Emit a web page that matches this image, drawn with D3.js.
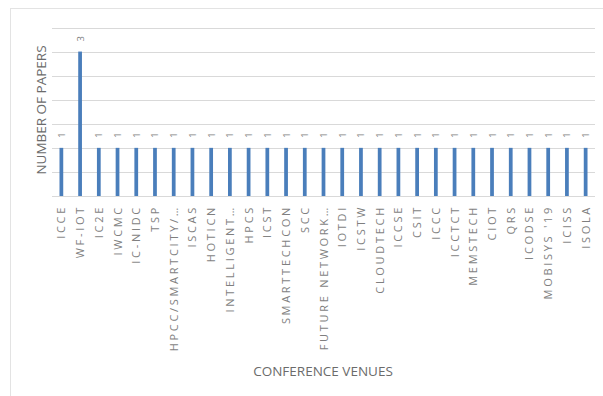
<!DOCTYPE html>
<html>
<head>
<meta charset="utf-8">
<script src="https://cdn.jsdelivr.net/npm/d3@7"></script>
<style>
  html, body { margin: 0; padding: 0; background: #fff; }
  svg { display: block; }
</style>
</head>
<body>
<svg id="chart" width="603" height="396"></svg>
<script>
// Conference venues and the number of papers published at each
const venues = [
  "ICCE", "WF-IOT", "IC2E", "IWCMC", "IC-NIDC", "TSP", "HPCC/SMARTCITY/\u2026",
  "ISCAS", "HOTICN", "INTELLIGENT\u2026", "HPCS", "ICST", "SMARTTECHCON", "SCC",
  "FUTURE NETWORK\u2026", "IOTDI", "ICSTW", "CLOUDTECH", "ICCSE", "CSIT", "ICCC",
  "ICCTCT", "MEMSTECH", "CIOT", "QRS", "ICODSE", "MOBISYS '19", "ICISS", "ISOLA"
];
const papers = [
  1, 3, 1, 1, 1, 1, 1,
  1, 1, 1, 1, 1, 1, 1,
  1, 1, 1, 1, 1, 1, 1,
  1, 1, 1, 1, 1, 1, 1, 1
];
const yTicks = [0, 0.5, 1, 1.5, 2, 2.5, 3, 3.5];

const svg = d3.select("#chart");
const plot = { left: 52, right: 595, top: 27.5, bottom: 196 };

// outer chart frame
svg.append("rect")
  .attr("x", 10.5).attr("y", 8.5)
  .attr("width", 620).attr("height", 420)
  .attr("fill", "none").attr("stroke", "#e3e3e3").attr("stroke-width", 1);

const x = d3.scaleBand().domain(venues).range([plot.left, plot.right])
  .paddingInner(0.8).paddingOuter(0.4);
const y = d3.scaleLinear().domain([0, 3.5]).range([plot.bottom, plot.top]);

// horizontal gridlines
svg.append("g").selectAll("line").data(yTicks).join("line")
  .attr("x1", plot.left).attr("x2", plot.right)
  .attr("y1", d => Math.round(y(d)) + 0.5).attr("y2", d => Math.round(y(d)) + 0.5)
  .attr("stroke", "#d9d9d9").attr("stroke-width", 1);

// bars
svg.append("g").selectAll("rect").data(venues).join("rect")
  .attr("x", d => x(d))
  .attr("width", x.bandwidth())
  .attr("y", (d, i) => y(papers[i]))
  .attr("height", (d, i) => y(0) - y(papers[i]))
  .attr("fill", "#4a7ebb");

const labelFont = "'Open Sans', 'DejaVu Sans', sans-serif";

// value labels above each bar
svg.append("g").selectAll("text").data(venues).join("text")
  .attr("transform", (d, i) => `translate(${x(d) + x.bandwidth() / 2 + 3.5},${y(papers[i]) - 10}) rotate(-90)`)
  .attr("text-anchor", "start")
  .attr("font-family", labelFont)
  .attr("font-size", 9.5)
  .attr("fill", "#7f7f7f")
  .text((d, i) => papers[i]);

// category axis labels, rotated
svg.append("g").selectAll("text").data(venues).join("text")
  .attr("transform", d => `translate(${x(d) + x.bandwidth() / 2 + 4},${plot.bottom + 9}) rotate(-90)`)
  .attr("text-anchor", "end")
  .attr("font-family", labelFont)
  .attr("font-size", 11)
  .attr("letter-spacing", 2.7)
  .attr("fill", "#7f7f7f")
  .text(d => d);

// axis titles
svg.append("text")
  .attr("transform", `translate(46,110) rotate(-90)`)
  .attr("text-anchor", "middle")
  .attr("font-family", labelFont)
  .attr("font-size", 13.5)
  .attr("fill", "#6b6b6b")
  .text("NUMBER OF PAPERS");

svg.append("text")
  .attr("x", 323).attr("y", 376)
  .attr("text-anchor", "middle")
  .attr("font-family", "'Liberation Sans Narrow', 'Open Sans', sans-serif")
  .attr("font-size", 13.5)
  .attr("fill", "#6b6b6b")
  .text("CONFERENCE VENUES");
</script>
</body>
</html>
